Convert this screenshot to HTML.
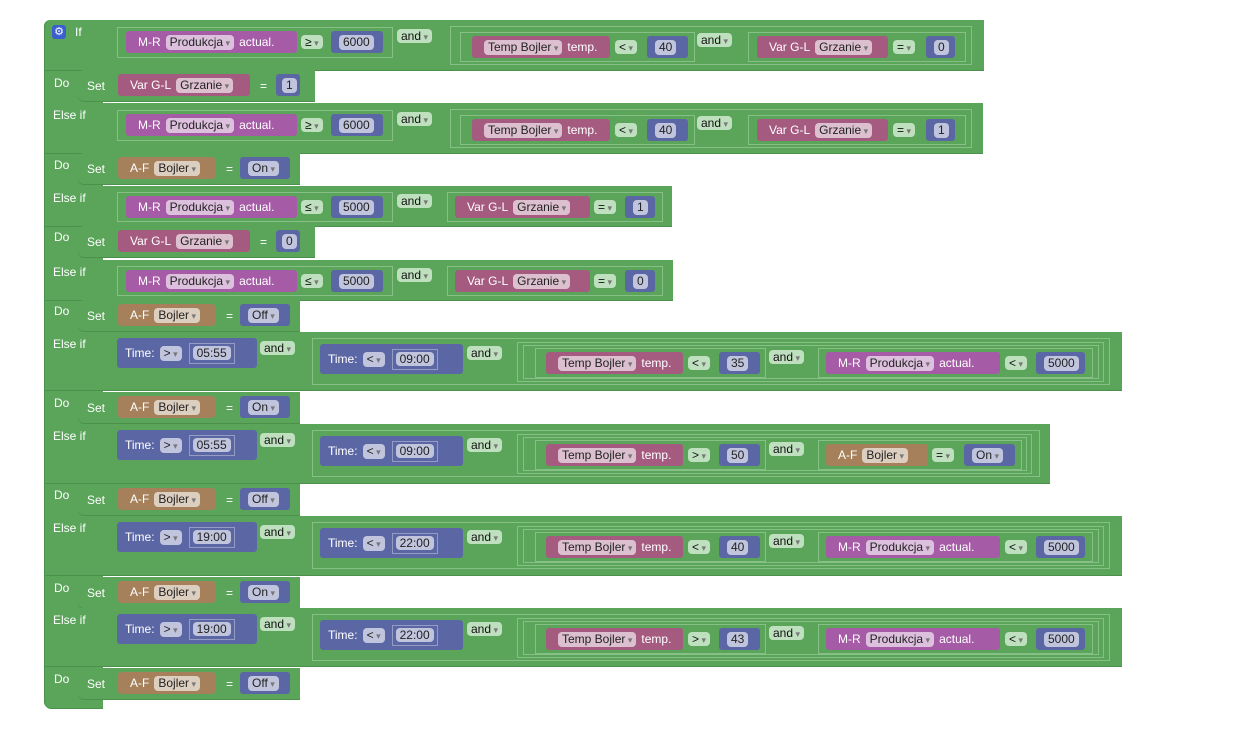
<!DOCTYPE html>
<html><head><meta charset="utf-8"><style>
body{margin:0;width:1240px;height:753px;background:#fff;position:relative;overflow:hidden;font-family:"Liberation Sans",sans-serif;font-size:12px}
.g{position:absolute;background:#5ba55b;box-sizing:border-box}
.o{position:absolute;border:1px solid #86c086;box-sizing:border-box}
.k{position:absolute;height:22px;border-radius:3px;color:#fff;display:flex;align-items:center;gap:5px;padding:0 4px 0 12px;box-sizing:border-box;white-space:nowrap}
.mr{background:#a55ba5}.vg{background:#a55b80}.af{background:#a5805b}.nb{background:#5b67a5;padding:0 4px 0 8px}.tm{background:#5b67a5;height:30px;padding-left:8px}
.p{background:rgba(255,255,255,.62);color:#222;border-radius:4px;height:15px;line-height:15px;padding:0 4px}
.a::after{content:" ▾";font-size:9px;color:#777}
.d{position:absolute;background:#bfe0bf;color:#111;border-radius:4px;height:14px;line-height:14px;padding:0 4px}
.l{position:absolute;color:#fff}
.bx{border:1px solid rgba(255,255,255,.35);padding:2px 3px;margin-left:2px}
.sh{box-shadow:0 1px 0 #4b914b}
</style></head><body>
<!-- left column -->
<div class="g" style="left:45px;top:20px;width:58px;height:688px;border-radius:6px 0 0 6px;box-shadow:-1px 0 0 #4b914b,0 1px 0 #4b914b"></div>

<!-- ROW 1 -->
<div class="g sh" style="left:45px;top:20px;width:939px;height:50px;border-radius:6px 0 0 0"></div>
<div class="l" style="left:75px;top:25px">If</div>
<div style="position:absolute;left:52px;top:25px;width:14px;height:14px;background:#3c5fd0;border-radius:3px;color:#fff;font-size:11px;line-height:14px;text-align:center">⚙</div>
<div class="o" style="left:117px;top:27px;width:276px;height:31px"></div>
<div class="k mr" style="left:126px;top:31px;width:171px"><span>M-R</span><span class="p a">Produkcja</span><span>actual.</span></div>
<div class="d a" style="left:301px;top:35px">≥</div>
<div class="k nb" style="left:331px;top:31px;width:52px"><span class="p">6000</span></div>
<div class="d a" style="left:397px;top:29px">and</div>
<div class="o" style="left:450px;top:26px;width:522px;height:39px"></div>
<div class="o" style="left:460px;top:32px;width:235px;height:30px"></div>
<div class="k vg" style="left:472px;top:36px;width:138px"><span class="p a">Temp Bojler</span><span>temp.</span></div>
<div class="d a" style="left:615px;top:40px">&lt;</div>
<div class="k nb" style="left:647px;top:36px;width:41px"><span class="p">40</span></div>
<div class="d a" style="left:697px;top:33px">and</div>
<div class="o" style="left:748px;top:32px;width:218px;height:30px"></div>
<div class="k vg" style="left:757px;top:36px;width:131px"><span>Var G-L</span><span class="p a">Grzanie</span></div>
<div class="d a" style="left:893px;top:40px">=</div>
<div class="k nb" style="left:926px;top:36px;width:29px"><span class="p">0</span></div>

<!-- DO 1 -->
<div class="l" style="left:54px;top:76px">Do</div>
<div class="g sh" style="left:78px;top:70px;width:237px;height:31px;border-radius:6px 0 0 6px"></div>
<div class="l" style="left:87px;top:79px">Set</div>
<div class="k vg" style="left:118px;top:74px;width:132px"><span>Var G-L</span><span class="p a">Grzanie</span></div>
<div class="l" style="left:260px;top:79px">=</div>
<div class="k nb" style="left:276px;top:74px;width:24px;padding-left:6px"><span class="p">1</span></div>

<!-- ROW 2 -->
<div class="g sh" style="left:45px;top:103px;width:938px;height:50px"></div>
<div class="l" style="left:53px;top:108px">Else if</div>
<div class="o" style="left:117px;top:110px;width:276px;height:31px"></div>
<div class="k mr" style="left:126px;top:114px;width:171px"><span>M-R</span><span class="p a">Produkcja</span><span>actual.</span></div>
<div class="d a" style="left:301px;top:118px">≥</div>
<div class="k nb" style="left:331px;top:114px;width:52px"><span class="p">6000</span></div>
<div class="d a" style="left:397px;top:112px">and</div>
<div class="o" style="left:450px;top:109px;width:522px;height:39px"></div>
<div class="o" style="left:460px;top:115px;width:235px;height:30px"></div>
<div class="k vg" style="left:472px;top:119px;width:138px"><span class="p a">Temp Bojler</span><span>temp.</span></div>
<div class="d a" style="left:615px;top:123px">&lt;</div>
<div class="k nb" style="left:647px;top:119px;width:41px"><span class="p">40</span></div>
<div class="d a" style="left:697px;top:116px">and</div>
<div class="o" style="left:748px;top:115px;width:218px;height:30px"></div>
<div class="k vg" style="left:757px;top:119px;width:131px"><span>Var G-L</span><span class="p a">Grzanie</span></div>
<div class="d a" style="left:893px;top:123px">=</div>
<div class="k nb" style="left:926px;top:119px;width:29px"><span class="p">1</span></div>

<!-- DO 2 -->
<div class="l" style="left:54px;top:158px">Do</div>
<div class="g sh" style="left:78px;top:153px;width:222px;height:31px;border-radius:6px 0 0 6px"></div>
<div class="l" style="left:87px;top:162px">Set</div>
<div class="k af" style="left:118px;top:157px;width:97px"><span>A-F</span><span class="p a">Bojler</span></div>
<div class="l" style="left:226px;top:162px">=</div>
<div class="k nb" style="left:240px;top:157px;width:50px"><span class="p a">On</span></div>

<!-- ROW 3 -->
<div class="g sh" style="left:45px;top:186px;width:627px;height:40px"></div>
<div class="l" style="left:53px;top:191px">Else if</div>
<div class="o" style="left:117px;top:192px;width:276px;height:30px"></div>
<div class="k mr" style="left:126px;top:196px;width:171px"><span>M-R</span><span class="p a">Produkcja</span><span>actual.</span></div>
<div class="d a" style="left:301px;top:200px">≤</div>
<div class="k nb" style="left:331px;top:196px;width:52px"><span class="p">5000</span></div>
<div class="d a" style="left:397px;top:194px">and</div>
<div class="o" style="left:447px;top:192px;width:216px;height:30px"></div>
<div class="k vg" style="left:455px;top:196px;width:135px"><span>Var G-L</span><span class="p a">Grzanie</span></div>
<div class="d a" style="left:594px;top:200px">=</div>
<div class="k nb" style="left:625px;top:196px;width:30px"><span class="p">1</span></div>

<!-- DO 3 -->
<div class="l" style="left:54px;top:230px">Do</div>
<div class="g sh" style="left:78px;top:226px;width:237px;height:31px;border-radius:6px 0 0 6px"></div>
<div class="l" style="left:87px;top:235px">Set</div>
<div class="k vg" style="left:118px;top:230px;width:132px"><span>Var G-L</span><span class="p a">Grzanie</span></div>
<div class="l" style="left:260px;top:235px">=</div>
<div class="k nb" style="left:276px;top:230px;width:24px;padding-left:6px"><span class="p">0</span></div>

<!-- ROW 4 -->
<div class="g sh" style="left:45px;top:260px;width:628px;height:40px"></div>
<div class="l" style="left:53px;top:265px">Else if</div>
<div class="o" style="left:117px;top:266px;width:276px;height:30px"></div>
<div class="k mr" style="left:126px;top:270px;width:171px"><span>M-R</span><span class="p a">Produkcja</span><span>actual.</span></div>
<div class="d a" style="left:301px;top:274px">≤</div>
<div class="k nb" style="left:331px;top:270px;width:52px"><span class="p">5000</span></div>
<div class="d a" style="left:397px;top:268px">and</div>
<div class="o" style="left:447px;top:266px;width:216px;height:30px"></div>
<div class="k vg" style="left:455px;top:270px;width:135px"><span>Var G-L</span><span class="p a">Grzanie</span></div>
<div class="d a" style="left:594px;top:274px">=</div>
<div class="k nb" style="left:625px;top:270px;width:30px"><span class="p">0</span></div>

<!-- DO 4 -->
<div class="l" style="left:54px;top:304px">Do</div>
<div class="g sh" style="left:78px;top:300px;width:222px;height:31px;border-radius:6px 0 0 6px"></div>
<div class="l" style="left:87px;top:309px">Set</div>
<div class="k af" style="left:118px;top:304px;width:97px"><span>A-F</span><span class="p a">Bojler</span></div>
<div class="l" style="left:226px;top:309px">=</div>
<div class="k nb" style="left:240px;top:304px;width:50px"><span class="p a">Off</span></div>

<!-- ROW 5 -->
<div class="g sh" style="left:45px;top:332px;width:1077px;height:58px"></div>
<div class="l" style="left:53px;top:337px">Else if</div>
<div class="k tm" style="left:117px;top:338px;width:140px"><span>Time:</span><span class="p a">&gt;</span><span class="bx"><span class="p">05:55</span></span></div>
<div class="d a" style="left:260px;top:341px">and</div>
<div class="o" style="left:312px;top:338px;width:798px;height:47px"></div>
<div class="k tm" style="left:320px;top:344px;width:143px"><span>Time:</span><span class="p a">&lt;</span><span class="bx"><span class="p">09:00</span></span></div>
<div class="d a" style="left:467px;top:346px">and</div>
<div class="o" style="left:517px;top:342px;width:587px;height:40px"></div>
<div class="o" style="left:523px;top:345px;width:576px;height:34px"></div>
<div class="o" style="left:535px;top:348px;width:231px;height:30px"></div>
<div class="k vg" style="left:546px;top:352px;width:137px"><span class="p a">Temp Bojler</span><span>temp.</span></div>
<div class="d a" style="left:688px;top:356px">&lt;</div>
<div class="k nb" style="left:719px;top:352px;width:41px"><span class="p">35</span></div>
<div class="d a" style="left:769px;top:350px">and</div>
<div class="o" style="left:818px;top:348px;width:275px;height:30px"></div>
<div class="k mr" style="left:826px;top:352px;width:174px"><span>M-R</span><span class="p a">Produkcja</span><span>actual.</span></div>
<div class="d a" style="left:1005px;top:356px">&lt;</div>
<div class="k nb" style="left:1036px;top:352px;width:49px"><span class="p">5000</span></div>

<!-- DO 5 -->
<div class="l" style="left:54px;top:396px">Do</div>
<div class="g sh" style="left:78px;top:392px;width:222px;height:31px;border-radius:6px 0 0 6px"></div>
<div class="l" style="left:87px;top:401px">Set</div>
<div class="k af" style="left:118px;top:396px;width:97px"><span>A-F</span><span class="p a">Bojler</span></div>
<div class="l" style="left:226px;top:401px">=</div>
<div class="k nb" style="left:240px;top:396px;width:50px"><span class="p a">On</span></div>

<!-- ROW 6 -->
<div class="g sh" style="left:45px;top:424px;width:1005px;height:59px"></div>
<div class="l" style="left:53px;top:429px">Else if</div>
<div class="k tm" style="left:117px;top:430px;width:140px"><span>Time:</span><span class="p a">&gt;</span><span class="bx"><span class="p">05:55</span></span></div>
<div class="d a" style="left:260px;top:433px">and</div>
<div class="o" style="left:312px;top:430px;width:728px;height:47px"></div>
<div class="k tm" style="left:320px;top:436px;width:143px"><span>Time:</span><span class="p a">&lt;</span><span class="bx"><span class="p">09:00</span></span></div>
<div class="d a" style="left:467px;top:438px">and</div>
<div class="o" style="left:517px;top:434px;width:515px;height:40px"></div>
<div class="o" style="left:523px;top:437px;width:504px;height:34px"></div>
<div class="o" style="left:535px;top:440px;width:231px;height:30px"></div>
<div class="k vg" style="left:546px;top:444px;width:137px"><span class="p a">Temp Bojler</span><span>temp.</span></div>
<div class="d a" style="left:688px;top:448px">&gt;</div>
<div class="k nb" style="left:719px;top:444px;width:41px"><span class="p">50</span></div>
<div class="d a" style="left:769px;top:442px">and</div>
<div class="o" style="left:818px;top:440px;width:204px;height:30px"></div>
<div class="k af" style="left:826px;top:444px;width:102px"><span>A-F</span><span class="p a">Bojler</span></div>
<div class="d a" style="left:932px;top:448px">=</div>
<div class="k nb" style="left:964px;top:444px;width:51px"><span class="p a">On</span></div>

<!-- DO 6 -->
<div class="l" style="left:54px;top:488px">Do</div>
<div class="g sh" style="left:78px;top:484px;width:222px;height:31px;border-radius:6px 0 0 6px"></div>
<div class="l" style="left:87px;top:493px">Set</div>
<div class="k af" style="left:118px;top:488px;width:97px"><span>A-F</span><span class="p a">Bojler</span></div>
<div class="l" style="left:226px;top:493px">=</div>
<div class="k nb" style="left:240px;top:488px;width:50px"><span class="p a">Off</span></div>

<!-- ROW 7 -->
<div class="g sh" style="left:45px;top:516px;width:1077px;height:59px"></div>
<div class="l" style="left:53px;top:521px">Else if</div>
<div class="k tm" style="left:117px;top:522px;width:140px"><span>Time:</span><span class="p a">&gt;</span><span class="bx"><span class="p">19:00</span></span></div>
<div class="d a" style="left:260px;top:525px">and</div>
<div class="o" style="left:312px;top:522px;width:798px;height:47px"></div>
<div class="k tm" style="left:320px;top:528px;width:143px"><span>Time:</span><span class="p a">&lt;</span><span class="bx"><span class="p">22:00</span></span></div>
<div class="d a" style="left:467px;top:530px">and</div>
<div class="o" style="left:517px;top:526px;width:587px;height:40px"></div>
<div class="o" style="left:523px;top:529px;width:576px;height:34px"></div>
<div class="o" style="left:535px;top:532px;width:231px;height:30px"></div>
<div class="k vg" style="left:546px;top:536px;width:137px"><span class="p a">Temp Bojler</span><span>temp.</span></div>
<div class="d a" style="left:688px;top:540px">&lt;</div>
<div class="k nb" style="left:719px;top:536px;width:41px"><span class="p">40</span></div>
<div class="d a" style="left:769px;top:534px">and</div>
<div class="o" style="left:818px;top:532px;width:275px;height:30px"></div>
<div class="k mr" style="left:826px;top:536px;width:174px"><span>M-R</span><span class="p a">Produkcja</span><span>actual.</span></div>
<div class="d a" style="left:1005px;top:540px">&lt;</div>
<div class="k nb" style="left:1036px;top:536px;width:49px"><span class="p">5000</span></div>

<!-- DO 7 -->
<div class="l" style="left:54px;top:581px">Do</div>
<div class="g sh" style="left:78px;top:577px;width:222px;height:31px;border-radius:6px 0 0 6px"></div>
<div class="l" style="left:87px;top:586px">Set</div>
<div class="k af" style="left:118px;top:581px;width:97px"><span>A-F</span><span class="p a">Bojler</span></div>
<div class="l" style="left:226px;top:586px">=</div>
<div class="k nb" style="left:240px;top:581px;width:50px"><span class="p a">On</span></div>

<!-- ROW 8 -->
<div class="g sh" style="left:45px;top:608px;width:1077px;height:58px"></div>
<div class="l" style="left:53px;top:613px">Else if</div>
<div class="k tm" style="left:117px;top:614px;width:140px"><span>Time:</span><span class="p a">&gt;</span><span class="bx"><span class="p">19:00</span></span></div>
<div class="d a" style="left:260px;top:617px">and</div>
<div class="o" style="left:312px;top:614px;width:798px;height:47px"></div>
<div class="k tm" style="left:320px;top:620px;width:143px"><span>Time:</span><span class="p a">&lt;</span><span class="bx"><span class="p">22:00</span></span></div>
<div class="d a" style="left:467px;top:622px">and</div>
<div class="o" style="left:517px;top:618px;width:587px;height:40px"></div>
<div class="o" style="left:523px;top:621px;width:576px;height:34px"></div>
<div class="o" style="left:535px;top:624px;width:231px;height:30px"></div>
<div class="k vg" style="left:546px;top:628px;width:137px"><span class="p a">Temp Bojler</span><span>temp.</span></div>
<div class="d a" style="left:688px;top:632px">&gt;</div>
<div class="k nb" style="left:719px;top:628px;width:41px"><span class="p">43</span></div>
<div class="d a" style="left:769px;top:626px">and</div>
<div class="o" style="left:818px;top:624px;width:275px;height:30px"></div>
<div class="k mr" style="left:826px;top:628px;width:174px"><span>M-R</span><span class="p a">Produkcja</span><span>actual.</span></div>
<div class="d a" style="left:1005px;top:632px">&lt;</div>
<div class="k nb" style="left:1036px;top:628px;width:49px"><span class="p">5000</span></div>

<!-- DO 8 -->
<div class="l" style="left:54px;top:672px">Do</div>
<div class="g sh" style="left:78px;top:668px;width:222px;height:31px;border-radius:6px 0 0 6px"></div>
<div class="l" style="left:87px;top:677px">Set</div>
<div class="k af" style="left:118px;top:672px;width:97px"><span>A-F</span><span class="p a">Bojler</span></div>
<div class="l" style="left:226px;top:677px">=</div>
<div class="k nb" style="left:240px;top:672px;width:50px"><span class="p a">Off</span></div>
</body></html>
